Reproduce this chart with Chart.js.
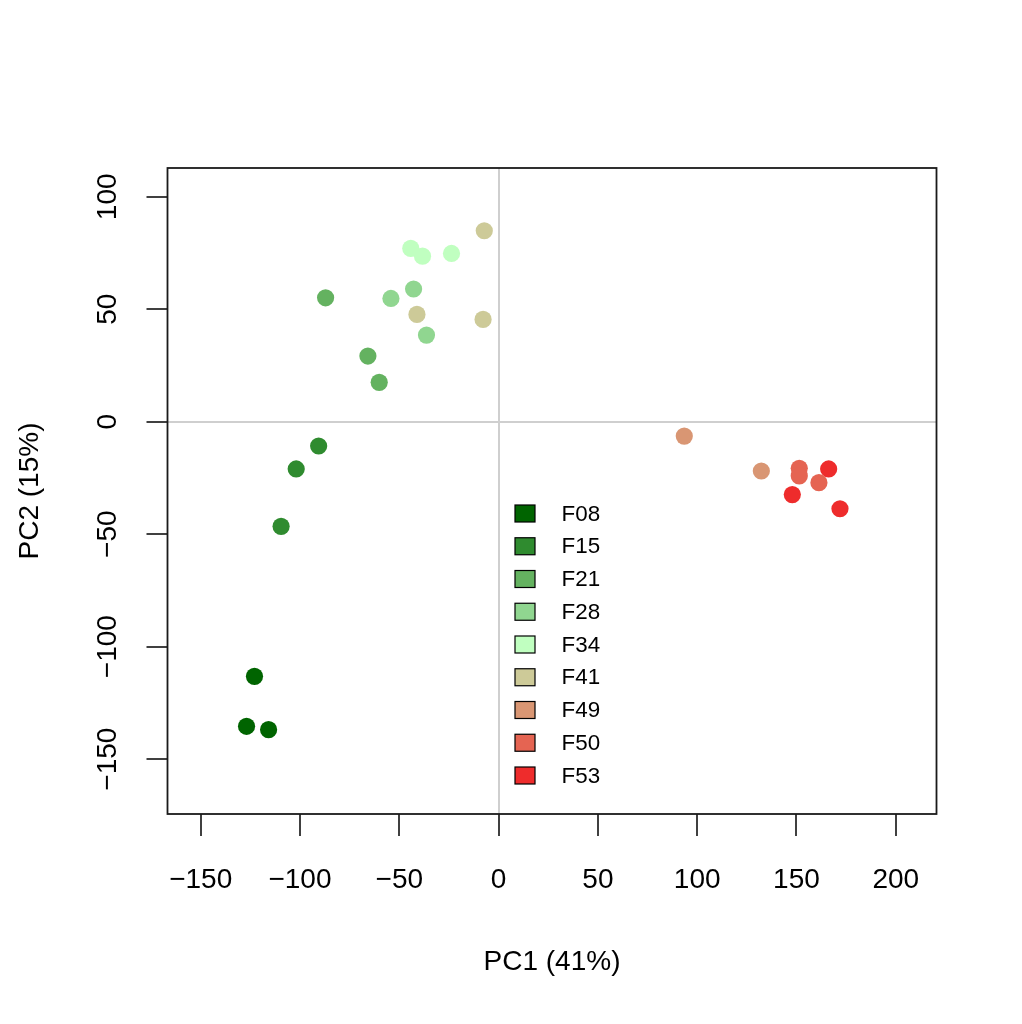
<!DOCTYPE html>
<html>
<head>
<meta charset="utf-8">
<script src="https://cdn.jsdelivr.net/npm/chart.js@4.4.1/dist/chart.umd.min.js"></script>
<style>
  html, body { margin: 0; padding: 0; background: #fff; overflow: hidden; }
  canvas { display: block; }
</style>
</head>
<body>
<canvas id="pca" width="1022" height="1024"></canvas>
<script>
// groups and their colours
const groups = ['F08', 'F15', 'F21', 'F28', 'F34', 'F41', 'F49', 'F50', 'F53'];
const groupColors = ['#006400', '#2f8b2f', '#64b260', '#90d690', '#c0ffc0', '#cdca98', '#d99673', '#e56452', '#ee2c2c'];

// PC1 / PC2 scores
const pc1F08 = [-122.9, -126.9, -115.8];
const pc2F08 = [-113.2, -135.4, -136.9];
const pc1F15 = [-90.6, -101.9, -109.5];
const pc2F15 = [-10.8, -21.0, -46.5];
const pc1F21 = [-87.1, -65.8, -60.1];
const pc2F21 = [55.1, 29.2, 17.5];
const pc1F28 = [-54.2, -42.8, -36.3];
const pc2F28 = [54.8, 59.0, 38.5];
const pc1F34 = [-44.2, -38.3, -23.7];
const pc2F34 = [77.1, 73.6, 74.8];
const pc1F41 = [-7.2, -41.1, -7.8];
const pc2F41 = [84.9, 47.7, 45.5];
const pc1F49 = [93.5, 132.3];
const pc2F49 = [-6.4, -21.9];
const pc1F50 = [151.4, 151.4, 161.3];
const pc2F50 = [-20.7, -24.1, -27.1];
const pc1F53 = [166.2, 147.9, 171.9];
const pc2F53 = [-21.0, -32.4, -38.7];

const pc1 = [pc1F08, pc1F15, pc1F21, pc1F28, pc1F34, pc1F41, pc1F49, pc1F50, pc1F53];
const pc2 = [pc2F08, pc2F15, pc2F21, pc2F28, pc2F34, pc2F41, pc2F49, pc2F50, pc2F53];

// axes
const xTicks = [-150, -100, -50, 0, 50, 100, 150, 200];
const yTicks = [-150, -100, -50, 0, 50, 100];
const xRange = [-166.7, 220.5];
const yRange = [-174.4, 112.8];

const FONT = 'Liberation Sans, Arial, Helvetica, sans-serif';
const fmt = v => v < 0 ? '\u2212' + Math.abs(v) : String(v);

const datasets = groups.map((g, i) => ({
    label: g,
    data: pc1[i].map((x, j) => ({ x: x, y: pc2[i][j] })),
    backgroundColor: groupColors[i],
    borderWidth: 0,
    pointRadius: 8.6,
    pointHoverRadius: 8.6,
}));

// box round the plot, rotated y labels and the legend
const extras = {
    id: 'extras',
    afterDraw(chart) {
        const ctx = chart.ctx;
        const a = chart.chartArea;
        ctx.save();
        ctx.strokeStyle = '#1a1a1a';
        ctx.lineWidth = 1.8;
        ctx.strokeRect(a.left, a.top, a.right - a.left, a.bottom - a.top);

        const ys = chart.scales.y;
        ctx.fillStyle = '#000';
        ctx.font = '28px ' + FONT;
        ctx.textAlign = 'center';
        ctx.textBaseline = 'middle';
        yTicks.forEach(v => {
            ctx.save();
            ctx.translate(108, ys.getPixelForValue(v));
            ctx.rotate(-Math.PI / 2);
            ctx.fillText(fmt(v), 0, 0);
            ctx.restore();
        });

        ctx.font = '22.4px ' + FONT;
        ctx.textAlign = 'left';
        chart.data.datasets.forEach((d, i) => {
            const cy = 513.5 + i * 32.75;
            ctx.fillStyle = d.backgroundColor;
            ctx.fillRect(515, cy - 8.5, 20, 17);
            ctx.strokeStyle = '#000';
            ctx.lineWidth = 1.2;
            ctx.strokeRect(515, cy - 8.5, 20, 17);
            ctx.fillStyle = '#000';
            ctx.fillText(d.label, 561.5, cy + 1);
        });
        ctx.restore();
    }
};

const zeroLine = ctx => (ctx.tick && ctx.tick.value === 0) ? '#cfcfcf' : 'rgba(0,0,0,0)';

new Chart(document.getElementById('pca'), {
    type: 'scatter',
    data: { datasets: datasets },
    options: {
        responsive: false,
        animation: false,
        events: [],
        layout: { padding: { top: 168, right: 85.5, left: 0, bottom: 0 } },
        plugins: {
            legend: { display: false },
            tooltip: { enabled: false }
        },
        scales: {
            x: {
                type: 'linear',
                min: xRange[0],
                max: xRange[1],
                afterBuildTicks: s => { s.ticks = xTicks.map(v => ({ value: v })); },
                afterFit: s => { s.height = 210; },
                border: { display: false },
                grid: { color: zeroLine, lineWidth: 2, tickLength: 22, tickColor: '#000', tickWidth: 1.5 },
                ticks: { font: { family: FONT, size: 28 }, color: '#000', padding: 27, maxRotation: 0, autoSkip: false, callback: v => fmt(v) },
                title: { display: true, text: 'PC1 (41%)', color: '#000', font: { family: FONT, size: 28 }, padding: { top: 0, bottom: 45 } }
            },
            y: {
                type: 'linear',
                min: yRange[0],
                max: yRange[1],
                afterBuildTicks: s => { s.ticks = yTicks.map(v => ({ value: v })); },
                afterFit: s => { s.width = 167.5; },
                border: { display: false },
                grid: { color: zeroLine, lineWidth: 2, tickLength: 21, tickColor: '#000', tickWidth: 1.5 },
                ticks: { display: false },
                title: { display: true, text: 'PC2 (15%)', color: '#000', font: { family: FONT, size: 28 }, padding: { top: 13, bottom: 0 } }
            }
        }
    },
    plugins: [extras]
});
</script>
</body>
</html>
